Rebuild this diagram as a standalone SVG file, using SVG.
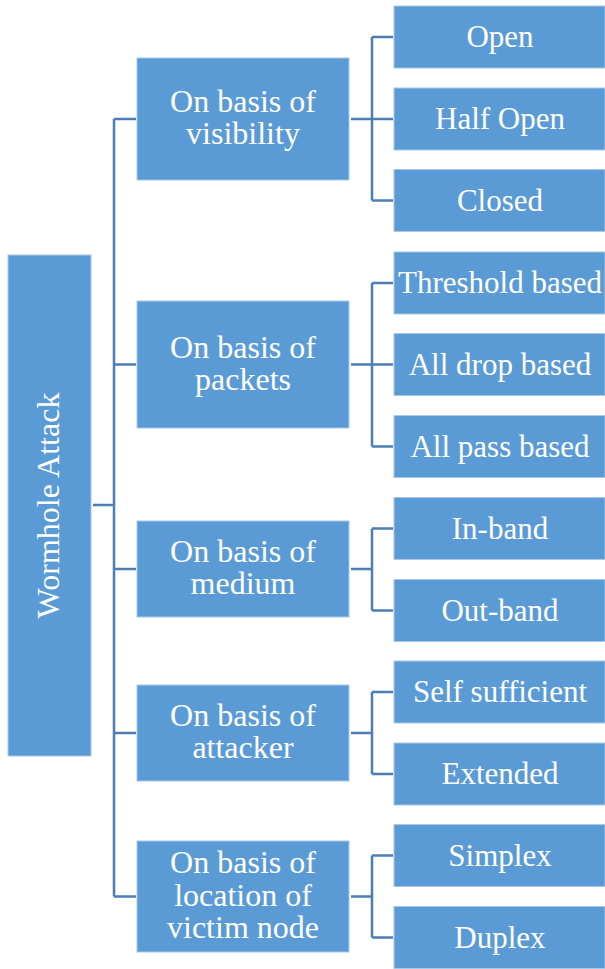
<svg xmlns="http://www.w3.org/2000/svg" width="605" height="969" viewBox="0 0 605 969">
<style>
.box{fill:#5b9bd5;stroke:#a9c8e8;stroke-width:1}
.t{fill:#ffffff;font-family:"Liberation Serif","Times New Roman",serif;font-size:31px;text-anchor:middle}
.l{font-size:32px}
.c{fill:none;stroke:#4a7eb5;stroke-width:2.5}
</style>
<rect width="605" height="969" fill="#ffffff"/>
<g id="connectors">
<path class="c" d="M93,505 H114 M114,119 V896.5 M114,119 H136 M114,364.5 H136 M114,569 H136 M114,733 H136 M114,896.5 H136"/>
<path class="c" d="M351,119 H372 M372,37 V200.5 M372,37 H393 M372,119 H393 M372,200.5 H393"/>
<path class="c" d="M351,364.5 H372 M372,283 V446.5 M372,283 H393 M372,364.5 H393 M372,446.5 H393"/>
<path class="c" d="M351,569 H372 M372,528.5 V610.5 M372,528.5 H393 M372,610.5 H393"/>
<path class="c" d="M351,733 H372 M372,692 V774 M372,692 H393 M372,774 H393"/>
<path class="c" d="M351,896.5 H372 M372,855.5 V937.5 M372,855.5 H393 M372,937.5 H393"/>
</g>
<g id="root">
<rect class="box" x="8" y="255" width="83" height="501"/>
<text class="t l" transform="translate(59,505.5) rotate(-90)">Wormhole Attack</text>
</g>
<g id="visibility">
<rect class="box" x="137" y="58" width="212" height="122"/>
<text class="t l" x="243" y="112">On basis of</text>
<text class="t l" x="243" y="144">visibility</text>
</g>
<g id="packets">
<rect class="box" x="137" y="301" width="212" height="127"/>
<text class="t l" x="243" y="357.5">On basis of</text>
<text class="t l" x="243" y="389.5">packets</text>
</g>
<g id="medium">
<rect class="box" x="137" y="521" width="212" height="96"/>
<text class="t l" x="243" y="562">On basis of</text>
<text class="t l" x="243" y="594">medium</text>
</g>
<g id="attacker">
<rect class="box" x="137" y="685" width="212" height="96"/>
<text class="t l" x="243" y="726">On basis of</text>
<text class="t l" x="243" y="758">attacker</text>
</g>
<g id="location">
<rect class="box" x="137" y="841" width="212" height="111"/>
<text class="t l" x="243" y="873">On basis of</text>
<text class="t l" x="243" y="906">location of</text>
<text class="t l" x="243" y="938">victim node</text>
</g>
<g id="open"><rect class="box" x="394" y="6" width="211" height="62"/><text class="t" x="500" y="47">Open</text></g>
<g id="half-open"><rect class="box" x="394" y="88" width="211" height="62"/><text class="t" x="500" y="129">Half Open</text></g>
<g id="closed"><rect class="box" x="394" y="169.5" width="211" height="62"/><text class="t" x="500" y="210.5">Closed</text></g>
<g id="threshold"><rect class="box" x="394" y="252" width="211" height="62"/><text class="t" x="500" y="293">Threshold based</text></g>
<g id="all-drop"><rect class="box" x="394" y="333.5" width="211" height="62"/><text class="t" x="500" y="374.5">All drop based</text></g>
<g id="all-pass"><rect class="box" x="394" y="415.5" width="211" height="62"/><text class="t" x="500" y="456.5">All pass based</text></g>
<g id="in-band"><rect class="box" x="394" y="497.5" width="211" height="62"/><text class="t" x="500" y="538.5">In-band</text></g>
<g id="out-band"><rect class="box" x="394" y="579.5" width="211" height="62"/><text class="t" x="500" y="620.5">Out-band</text></g>
<g id="self-sufficient"><rect class="box" x="394" y="661" width="211" height="62"/><text class="t" x="500" y="702">Self sufficient</text></g>
<g id="extended"><rect class="box" x="394" y="743" width="211" height="62"/><text class="t" x="500" y="784">Extended</text></g>
<g id="simplex"><rect class="box" x="394" y="824.5" width="211" height="62"/><text class="t" x="500" y="865.5">Simplex</text></g>
<g id="duplex"><rect class="box" x="394" y="906.5" width="211" height="62"/><text class="t" x="500" y="947.5">Duplex</text></g>
</svg>
